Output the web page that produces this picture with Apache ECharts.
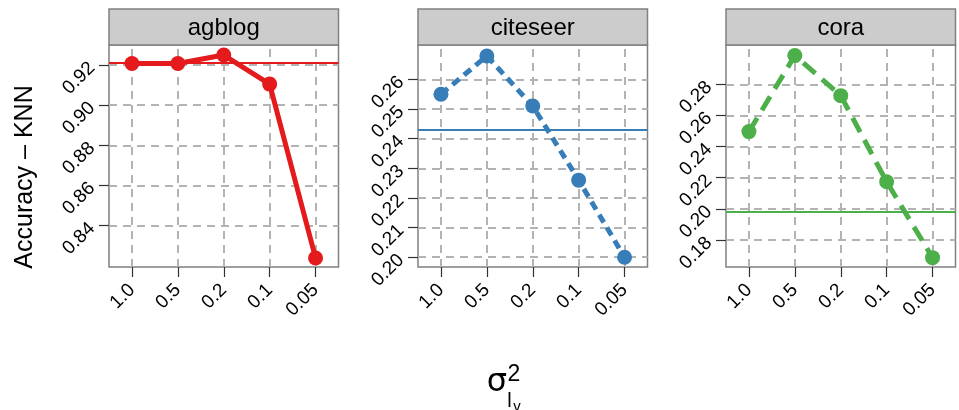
<!DOCTYPE html>
<html>
<head>
<meta charset="utf-8">
<script src="https://cdn.jsdelivr.net/npm/echarts@6/dist/echarts.min.js"></script>
<style>
	html, body { margin: 0; padding: 0; background: #fff; }
	#chart { width: 959px; height: 410px; }
</style>
</head>
<body>
<div id="chart"></div>
<script>
var categories = ['1.0', '0.5', '0.2', '0.1', '0.05'];

var panelNames = ['agblog', 'citeseer', 'cora'];
var agblogValues = [0.9208, 0.9208, 0.925, 0.9105, 0.8238];
var citeseerValues = [0.255, 0.2679, 0.251, 0.226, 0.200];
var coraValues = [0.2496, 0.2984, 0.2727, 0.2174, 0.1687];
var baselines = [0.921, 0.243, 0.198];

var agblogTicks = [0.84, 0.86, 0.88, 0.90, 0.92];
var citeseerTicks = [0.20, 0.21, 0.22, 0.23, 0.24, 0.25, 0.26];
var coraTicks = [0.18, 0.20, 0.22, 0.24, 0.26, 0.28];

var yRanges = [[0.8193, 0.93], [0.1967, 0.2716], [0.1627, 0.3052]];

var colors = ['#E41A1C', '#377EB8', '#4DAF4A'];
var lineDash = ['solid', [9, 6], [16, 9]];

var values = [agblogValues, citeseerValues, coraValues];
var ticks = [agblogTicks, citeseerTicks, coraTicks];

var panelLeft = [109, 418, 726];
var panelWidth = 229.5;
var plotTop = 45;
var plotHeight = 222;
var fontFamily = '"Liberation Sans", Arial, sans-serif';

var grids = [], xAxes = [], yAxes = [], series = [], graphics = [];

var gridLineStyle = { color: '#b3b3b3', width: 2, type: [8, 6] };

for (var i = 0; i < 3; i++) {
	grids.push({
		left: panelLeft[i], top: plotTop, width: panelWidth, height: plotHeight,
		show: true, borderColor: '#808080', borderWidth: 1.5, backgroundColor: '#fff'
	});
	xAxes.push({
		type: 'category', gridIndex: i, data: categories, boundaryGap: true,
		axisLine: { show: false },
		axisTick: { show: true, alignWithLabel: true, length: 10, lineStyle: { color: '#333', width: 1.2 } },
		axisLabel: { rotate: 45, margin: 20, fontSize: 19, color: '#000', fontFamily: fontFamily },
		splitLine: { show: false }
	});
	yAxes.push({
		type: 'value', gridIndex: i, min: yRanges[i][0], max: yRanges[i][1],
		axisLine: { show: false },
		axisTick: { show: true, length: 10, customValues: ticks[i], lineStyle: { color: '#333', width: 1.2 } },
		axisLabel: {
			rotate: 45, margin: 17, fontSize: 19, color: '#000', fontFamily: fontFamily,
			customValues: ticks[i],
			formatter: function (v) { return v.toFixed(2); }
		},
		splitLine: { show: false }
	});

	// dashed background grid
	var gridMarks = [];
	ticks[i].forEach(function (t) { gridMarks.push({ yAxis: t }); });
	categories.forEach(function (c) { gridMarks.push({ xAxis: c }); });
	series.push({
		type: 'line', xAxisIndex: i, yAxisIndex: i, data: [], z: 1, silent: true,
		markLine: {
			z: 1, silent: true, symbol: 'none', precision: 4, label: { show: false }, animation: false,
			lineStyle: gridLineStyle, emphasis: { disabled: true },
			data: gridMarks
		}
	});

	// horizontal reference line
	series.push({
		type: 'line', xAxisIndex: i, yAxisIndex: i, data: [], z: 2, silent: true,
		markLine: {
			z: 2, silent: true, symbol: 'none', precision: 4, label: { show: false }, animation: false,
			lineStyle: { color: colors[i], width: 2, type: 'solid' }, emphasis: { disabled: true },
			data: [{ yAxis: baselines[i] }]
		}
	});

	series.push({
		name: panelNames[i], type: 'line', xAxisIndex: i, yAxisIndex: i, z: 3,
		data: values[i],
		symbol: 'circle', symbolSize: 15,
		itemStyle: { color: colors[i] },
		lineStyle: { color: colors[i], width: 5, type: lineDash[i] },
		animation: false
	});

	// strip on top of panel
	graphics.push({
		type: 'rect', shape: { x: panelLeft[i], y: 9, width: panelWidth, height: 36 },
		style: { fill: '#cccccc', stroke: '#808080', lineWidth: 1.5 }
	});
	graphics.push({
		type: 'text', x: panelLeft[i] + panelWidth / 2, y: 28,
		style: { text: panelNames[i], font: '24px ' + fontFamily, fill: '#000', textAlign: 'center', textVerticalAlign: 'middle' }
	});
}

graphics.push({
	type: 'text', x: 25, y: 177, rotation: Math.PI / 2,
	style: { text: 'Accuracy – KNN', font: '25px ' + fontFamily, fill: '#000', textAlign: 'center', textVerticalAlign: 'middle' }
});
// x axis title: sigma squared with subscript l_v
graphics.push({
	type: 'text', x: 497, y: 383,
	style: { text: 'σ', font: '32px "DejaVu Sans", sans-serif', fill: '#000', textAlign: 'center', textVerticalAlign: 'middle' }
});
graphics.push({
	type: 'text', x: 514, y: 375,
	style: { text: '2', font: '23px ' + fontFamily, fill: '#000', textAlign: 'center', textVerticalAlign: 'middle' }
});
graphics.push({
	type: 'text', x: 509.5, y: 401,
	style: { text: 'l', font: '20px ' + fontFamily, fill: '#000', textAlign: 'center', textVerticalAlign: 'middle' }
});
graphics.push({
	type: 'text', x: 517, y: 407,
	style: { text: 'v', font: '15px ' + fontFamily, fill: '#000', textAlign: 'center', textVerticalAlign: 'middle' }
});

var myChart = echarts.init(document.getElementById('chart'), null, { renderer: 'canvas' });
myChart.setOption({
	backgroundColor: '#fff',
	animation: false,
	grid: grids,
	xAxis: xAxes,
	yAxis: yAxes,
	series: series,
	graphic: graphics
});
</script>
</body>
</html>
